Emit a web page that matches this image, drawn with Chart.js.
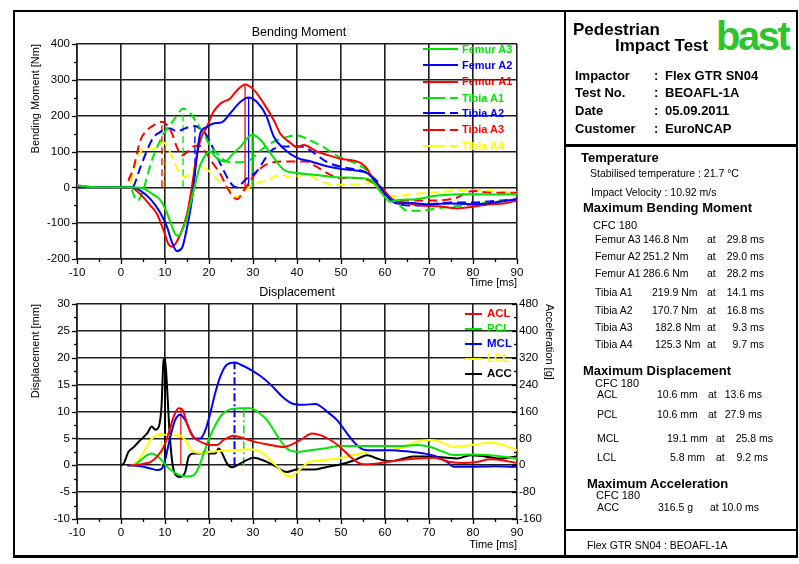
<!DOCTYPE html>
<html><head><meta charset="utf-8">
<script src="https://cdn.jsdelivr.net/npm/chart.js@4.4.0/dist/chart.umd.min.js"></script>
<style>
html,body{margin:0;padding:0;background:#fff;}
body{width:799px;height:564px;position:relative;overflow:hidden;font-family:"Liberation Sans",Arial,sans-serif;color:#000;}
.a{position:absolute;white-space:nowrap;line-height:1;}
canvas{position:absolute;}
.ln{position:absolute;background:#000;}
</style></head><body>
<canvas id="c1" width="551" height="279" style="left:14px;top:11px;width:551px;height:279px"></canvas>
<canvas id="c2" width="551" height="262" style="left:14px;top:290px;width:551px;height:262px"></canvas>
<script>
// ---------- axis ticks ----------
const timeTicks = [-10,0,10,20,30,40,50,60,70,80,90];
const momentTicks = [-200,-100,0,100,200,300,400];
const dispTicks = [-10,-5,0,5,10,15,20,25,30];
const accTicks = [-160,-80,0,80,160,240,320,400,480];

// ---------- bending moment series (time ms, value Nm) ----------
const momentNames = ['Femur A3','Femur A2','Femur A1','Tibia A1','Tibia A2','Tibia A3','Tibia A4'];
const femurA3T = [-10,-5,2,5,7.4,8.9,10,11.2,12.3,13,14.6,15.8,16.9,18,19.2,20.2,21.8,23.7,25.2,27.1,29.8,31.7,33.9,37,40,43.8,48.3,54.4,56.7,58.9,61.2,63,67,72,79,85,90];
const femurA3V = [5,0,0,-3,-21,-35,-59,-96,-130,-135,-100,-45,11,62,90,100,81,72,90,113,147,133,96,49,40,35,29,26,21,-11,-40,-35,-33,-23,-19,-20,-19];
const femurA2T = [-10,2.5,4.4,6.7,8.9,10.5,11.6,12.7,13.9,15,16.1,17.3,18,19.5,21,23,24.8,27.1,29,30.9,33,34.7,37,40,43,46.8,49.8,54.4,55.9,58.2,60.5,62.7,66,70,75,80,85,90];
const femurA2V = [0,0,-9,-33,-70,-112,-154,-178,-168,-112,-37,93,150,168,178,182,206,238,251,238,200,142,108,82,73,59,52,45,40,12,-25,-45,-44,-47,-45,-47,-42,-33];
const femurA1T = [-10,-5,2,4.4,6.7,8.2,9.7,10.8,11.6,13.5,15,16.1,16.9,18,19.5,21,22.6,24.8,26.4,28.2,30.2,32.4,34.7,36.2,38.5,40,41.5,44.5,47,49.8,54.4,55.9,57.4,59.7,62,64.2,68,72,76.4,80,84,87,90];
const femurA1V = [5,0,0,-19,-51,-75,-121,-159,-166,-131,-75,0,65,131,168,210,234,248,271,287,272,235,188,150,124,112,118,100,90,80,68,52,21,-7,-37,-42,-51,-53,-59,-54,-47,-45,-37];
const tibiaA1T = [-10,2,3.7,5,5.9,7,8.2,9.7,11.2,12.7,14.1,15.8,17.3,18.8,20.3,21.8,22.6,24.8,26.4,28.6,31,33,35.5,37,40,43,46,49.8,53.6,55.9,58.2,60.4,62.7,65,68,72,78,84,90];
const tibiaA1V = [0,0,-38,-10,28,75,112,150,175,200,220,206,178,150,115,95,84,70,70,72,95,115,132,138,145,131,112,84,65,47,9,-19,-42,-65,-65,-58,-50,-42,-35];
const tibiaA2T = [-10,2.5,4.4,5.9,7.4,8.9,10,11.2,12.7,13.9,15.4,16.8,18,19.2,20.5,21.8,23,24.5,25.6,26.5,27.5,28.6,29.8,30.9,32.5,33.9,37,40.8,42.7,47.2,51,55,58,60,62,66.5,70,75,80,85,90];
const tibiaA2V = [0,0,56,103,140,154,164,164,156,161,168,171,164,150,120,86,55,20,3,0,11,25,34,45,75,100,114,114,105,68,55,45,20,-15,-40,-51,-48,-42,-42,-38,-33];
const tibiaA3T = [-10,1.2,1.7,2.9,3.6,4.4,5.9,7.4,9.3,10.5,11.6,12.7,13.9,15,16.5,17.7,19.5,21,22.6,24.1,25.6,26.4,27.9,29.4,31.3,33.9,37.7,42.3,44.2,47.6,49.5,53.6,57,60,62,64,71,76,80,84,90];
const tibiaA3V = [0,0,19,56,93,131,159,173,183,173,150,112,89,98,114,117,93,65,37,0,-28,-33,-9,19,49,68,72,72,59,35,26,26,15,-20,-37,-37,-37,-30,-10,-15,-15];
const tibiaA4T = [-10,1.5,2.1,3.3,4.4,5.9,7.4,8.8,9.7,10.8,12,13.5,14.6,15.8,17.3,18.8,20.3,21.8,23.3,24.8,26.4,27.5,28.6,30.2,33.2,36.2,38.5,42.3,45.3,48.3,54.4,56.7,59.7,62,64,68,72,76,80,84,90];
const tibiaA4V = [0,0,9,65,98,112,107,120,125,107,75,37,28,42,61,56,42,23,9,-9,-28,-23,-5,9,19,35,29,35,17,7,9,12,-16,-25,-23,-17,-14,-9,-8,-10,-14];
const momentPeakNm = [146.8,251.2,286.6,219.9,170.7,182.8,125.3];
const momentPeakMs = [29.8,29.0,28.2,14.1,16.8,9.3,9.7];

// ---------- displacement series (time ms, value mm) ----------
const dispNames = ['ACL','PCL','MCL','LCL'];
const aclT = [2,3,5.2,6.7,8.2,9.7,10.8,12,13.1,13.9,15,16.1,17.3,18.8,20.3,21.8,23.3,25.6,27.9,30.2,33.2,37,38.5,40.8,43.4,45.3,47.6,49.8,52.1,54.4,55.9,58.9,62.7,67.3,71,74.8,77.9,80.9,83.9,87,90];
const aclV = [0,0,0.3,0.6,1.6,3.4,5.9,9.1,10.6,10.4,7.8,5.6,4.7,4.1,3.75,3.75,4.7,5.5,5,4.4,3.9,3.4,3.75,4.7,5.9,5.6,4.7,3.4,1.6,0.3,0.2,0.4,0.9,1.25,1.4,0.6,0.4,0.6,1.1,0.9,0.4];
const pclT = [2,2.9,4.4,5.9,7,8.2,9.3,10.5,12,13.5,15,16.5,17.7,18.8,19.9,21.1,22.6,24.5,27.1,27.9,29.4,30.9,33.2,35.5,37.7,40,42.3,46.1,49.8,53.6,58.2,64.2,67.3,70.3,73.3,75.6,79.4,83.2,87,90];
const pclV = [0,0,0.9,1.9,2.2,1.75,0.9,-0.3,-1.25,-1.9,-2.1,-1.9,-0.3,2.2,4.7,6.9,9.1,10.3,10.6,10.6,10.6,10,8.4,5.5,3.1,2.5,2.7,3.1,3.6,3.6,3.6,3.6,3.75,3.4,2.5,1.9,2,1.9,1.6,1.25];
const mclT = [1.4,4.4,6.7,8.2,9.3,10,11.2,12.3,13.5,14.6,15.8,16.9,18,19.2,20.3,21.4,22.6,24.1,25.8,27.1,29.4,31.7,34,37,39.2,41.5,44.2,46.8,49.1,51.4,53.6,55.2,57.4,61.2,65.8,68.8,71.8,74.1,75.6,79.4,85,90];
const mclV = [0,-0.2,-0.6,-0.9,-0.6,0.9,5.3,8.4,9.4,8.4,6.25,5,5,6.6,9.7,13.4,16.6,18.75,19.1,18.75,17.8,16.6,15,12.5,11.4,11.25,11.4,10,8.4,5.9,3.75,2.9,2.8,2.8,2.5,2.2,1.6,0.6,-0.3,-0.3,-0.2,-0.3];
const lclT = [2.1,3.6,5.2,6.7,8.2,9.2,10.5,12,13.1,14.6,16.1,18,20.3,22.6,25.6,28.6,30.9,33.2,35.5,37,38.5,40,42.3,45.3,49.1,53,56.7,61.2,64.2,67.3,70.3,72.6,75.6,77.9,80.9,83.9,87,90];
const lclV = [0,0.6,2.5,4.7,5.6,5.8,5.6,5.6,5.6,4.7,2.8,2.3,2.5,2.7,2.8,3,2.8,1.6,-0.3,-1.6,-2.1,-1.25,0.4,0.9,1.25,1.9,2.6,2.8,3.4,4.4,4.7,4.4,3.4,3.6,3.9,4.2,3.75,2.8];
const dispPeakMm = [10.6,10.6,19.1,5.8];
const dispPeakMs = [13.6,27.9,25.8,9.2];

// ---------- acceleration (time ms, value g) ----------
const accName = 'ACC';
const accT = [0,0.6,1.7,2.9,4.4,5.9,7,7.8,8.6,9.2,9.7,10,10.5,11,11.6,12.3,13.5,14.6,15.4,16.5,18,19.2,20.3,21.4,22.2,23,24.1,25.2,26.4,28.3,30.2,32.4,34.7,37.7,40,43.8,46.8,49.8,52.9,56,58.2,61.2,64.2,66.5,70.3,74.1,76.4,79.4,82.4,86.2,90];
const accV = [0,5,40,54,75,94,115,106,115,174,315,316.5,224,106,14,-26,-35,-20,26,35,35,40,35,35,50,35,5,-6,0,14,22,14,0,-20,-13,-13,-5,2,14,30,20,12,20,26,26,22,20,30,27,20,26];
const accPeakG = 316.5;
const accPeakMs = 10.0;

// ---------- styling ----------
const FONT = "'Liberation Sans', Arial, sans-serif";
const RED = '#ff0000', GREEN = '#00e400', BLUE = '#0000ff', YELLOW = '#ffff00', BLACK = '#000000';
const DASH = [9,5];
const GRID = '#1e1e1e';

function pts(t, v) { return t.map((x, i) => ({x: x, y: v[i]})); }
function series(label, t, v, color, dash, axis) {
  return {label, data: pts(t, v), borderColor: color, borderWidth: 2, borderDash: dash || [],
    pointRadius: 0, fill: false, cubicInterpolationMode: 'monotone', yAxisID: axis || 'y'};
}
function marker(t, peak, color, dash, width, axis) {
  return {label: '', data: [{x: t, y: 0}, {x: t, y: peak}], borderColor: color, borderWidth: width || 1.2,
    borderDash: dash || [], pointRadius: 0, fill: false, tension: 0, yAxisID: axis || 'y'};
}

const tickMarks = {
  id: 'tickMarks',
  afterDraw(chart, args, opts) {
    const ctx = chart.ctx, ca = chart.chartArea;
    ctx.save(); ctx.strokeStyle = '#000'; ctx.lineWidth = 1.3;
    (opts.axes || []).forEach(a => {
      const s = chart.scales[a.id];
      const n = Math.round((s.max - s.min) / (a.step / 2));
      for (let i = 0; i <= n; i++) {
        const v = s.min + i * a.step / 2;
        const len = (i % 2 === 0) ? 5 : 3;
        const p = Math.round(s.getPixelForValue(v)) + 0.5;
        ctx.beginPath();
        if (a.side === 'bottom') { ctx.moveTo(p, ca.bottom); ctx.lineTo(p, ca.bottom + len); }
        else if (a.side === 'left') { ctx.moveTo(ca.left, p); ctx.lineTo(ca.left - len, p); }
        else { ctx.moveTo(ca.right, p); ctx.lineTo(ca.right - len, p); }
        ctx.stroke();
      }
    });
    ctx.restore();
  }
};

function xScale(h) {
  return {type: 'linear', min: -10, max: 90,
    afterBuildTicks: s => { s.ticks = timeTicks.map(v => ({value: v})); },
    grid: {color: GRID, lineWidth: 1.6, drawTicks: false},
    border: {color: GRID, width: 1.6},
    ticks: {padding: 7, color: '#000', font: {family: FONT, size: 11.5}, maxRotation: 0, autoSkip: false},
    title: {display: true, text: 'Time [ms]', align: 'end', padding: 0, color: '#000', font: {family: FONT, size: 11}},
    afterFit: s => { s.height = h; }};
}
function yScale(min, max, ticks, title, tpad) {
  return {type: 'linear', position: 'left', min: min, max: max,
    afterBuildTicks: s => { s.ticks = ticks.map(v => ({value: v})); },
    grid: {color: GRID, lineWidth: 1.6, drawTicks: false},
    border: {color: GRID, width: 1.6},
    ticks: {padding: 7, color: '#000', font: {family: FONT, size: 11.5}, autoSkip: false},
    title: {display: true, text: title, align: 'end', padding: {top: tpad, bottom: 0}, color: '#000', font: {family: FONT, size: 11}},
    afterFit: s => { s.width = 63; }};
}

const momentStyles = [[GREEN, null], [BLUE, null], [RED, null], [GREEN, DASH], [BLUE, DASH], [RED, DASH], [YELLOW, DASH]];
const momentData = [[femurA3T, femurA3V], [femurA2T, femurA2V], [femurA1T, femurA1V], [tibiaA1T, tibiaA1V], [tibiaA2T, tibiaA2V], [tibiaA3T, tibiaA3V], [tibiaA4T, tibiaA4V]];
const ds1 = [];
momentNames.forEach((n, i) => ds1.push(series(n, momentData[i][0], momentData[i][1], momentStyles[i][0], momentStyles[i][1])));
momentNames.forEach((n, i) => ds1.push(marker(momentPeakMs[i], momentPeakNm[i], momentStyles[i][0], momentStyles[i][1] ? [7,4] : [], 1.3)));

new Chart(document.getElementById('c1'), {
  type: 'line',
  data: {datasets: ds1},
  options: {
    responsive: false, animation: false, events: [],
    layout: {padding: {top: 33, right: 48, left: 0, bottom: 0}},
    plugins: {legend: {display: false}, tooltip: {enabled: false}, title: {display: false},
      tickMarks: {axes: [{id: 'x', step: 10, side: 'bottom'}, {id: 'y', step: 100, side: 'left'}]}},
    scales: {x: xScale(31), y: yScale(-200, 400, momentTicks, 'Bending Moment [Nm]', 15)}
  },
  plugins: [tickMarks]
});

const dispStyles = [[RED, [], 1.2], [GREEN, [8,3,2,3], 1.5], [BLUE, [8,3,2,3], 2], [YELLOW, [6,3], 1.5]];
const dispData = [[aclT, aclV], [pclT, pclV], [mclT, mclV], [lclT, lclV]];
const ds2 = [];
dispNames.forEach((n, i) => ds2.push(series(n, dispData[i][0], dispData[i][1], dispStyles[i][0], null)));
ds2.push(series(accName, accT, accV, BLACK, null, 'y2'));
dispNames.forEach((n, i) => ds2.push(marker(dispPeakMs[i], dispPeakMm[i], dispStyles[i][0], dispStyles[i][1], dispStyles[i][2])));
ds2.push(marker(accPeakMs, accPeakG, BLACK, [], 2, 'y2'));

const y2 = {type: 'linear', position: 'right', min: -160, max: 480,
  afterBuildTicks: s => { s.ticks = accTicks.map(v => ({value: v})); },
  grid: {display: false, drawTicks: false}, border: {display: false},
  ticks: {padding: 2, color: '#000', font: {family: FONT, size: 11.5}, autoSkip: false},
  title: {display: true, text: 'Acceleration [g]', align: 'end', padding: {top: 9, bottom: 0}, color: '#000', font: {family: FONT, size: 11}},
  afterFit: s => { s.width = 48; }};

new Chart(document.getElementById('c2'), {
  type: 'line',
  data: {datasets: ds2},
  options: {
    responsive: false, animation: false, events: [],
    layout: {padding: {top: 14, right: 0, left: 0, bottom: 0}},
    plugins: {legend: {display: false}, tooltip: {enabled: false}, title: {display: false},
      tickMarks: {axes: [{id: 'x', step: 10, side: 'bottom'}, {id: 'y', step: 5, side: 'left'}, {id: 'y2', step: 80, side: 'right'}]}},
    scales: {x: xScale(33), y: yScale(-10, 30, dispTicks, 'Displacement [mm]', 15), y2: y2}
  },
  plugins: [tickMarks]
});

// ---------- HTML text & frame ----------
function T(x, y, s, size, o) {
  o = o || {};
  const d = document.createElement('div');
  d.className = 'a'; d.textContent = s;
  d.style.fontSize = size + 'px';
  d.style.top = (y - size * 0.5) + 'px';
  if (o.align === 'right') d.style.right = (799 - x) + 'px';
  else if (o.align === 'center') { d.style.left = x + 'px'; d.style.transform = 'translateX(-50%)'; }
  else d.style.left = x + 'px';
  if (o.bold) d.style.fontWeight = 'bold';
  if (o.color) d.style.color = o.color;
  if (o.ls) d.style.letterSpacing = o.ls;
  document.body.appendChild(d);
  return d;
}
function L(x, y, w, h, bg) {
  const d = document.createElement('div');
  d.className = 'ln';
  d.style.left = x + 'px'; d.style.top = y + 'px'; d.style.width = w + 'px'; d.style.height = h + 'px';
  if (bg) d.style.background = bg;
  document.body.appendChild(d);
  return d;
}

// chart titles
T(299, 32.5, 'Bending Moment', 12.5, {align: 'center'});
T(297, 292, 'Displacement', 12.5, {align: 'center'});

// top legend
const legY1 = [49, 65, 81.5, 98, 113, 129.5, 146];
momentNames.forEach((n, i) => {
  const c = momentStyles[i][0];
  if (momentStyles[i][1]) { L(423, legY1[i] - 1, 22, 2, c); L(450, legY1[i] - 1, 8, 2, c); }
  else L(423, legY1[i] - 1, 35, 2, c);
  T(462, legY1[i], n, 11, {bold: true, color: c});
});
// bottom legend
const legNames2 = dispNames.concat([accName]);
const legCols2 = [RED, GREEN, BLUE, YELLOW, BLACK];
const legY2 = [314, 329, 344, 359, 374];
legNames2.forEach((n, i) => {
  L(465, legY2[i] - 1, 17, 2, legCols2[i]);
  T(487, legY2[i], n, 11.5, {bold: true, color: legCols2[i]});
});

// frame
L(13, 10, 785, 2); L(13, 555, 785, 3); L(13, 10, 2, 548); L(796, 10, 2, 548);
L(564, 10, 2, 548); L(565, 144, 233, 3); L(565, 529, 233, 2);

// header
T(716, 36, 'bast', 40, {bold: true, color: '#2ec42e', ls: '-2.5px'});
T(573, 29.5, 'Pedestrian', 17, {bold: true});
T(615, 45, 'Impact Test', 17, {bold: true});
const infoLabels = ['Impactor', 'Test No.', 'Date', 'Customer'];
const infoValues = ['Flex GTR SN04', 'BEOAFL-1A', '05.09.2011', 'EuroNCAP'];
const infoY = [75, 92.5, 110.5, 128.5];
infoLabels.forEach((s, i) => { T(575, infoY[i], s, 13, {bold: true}); T(654, infoY[i], ':', 13, {bold: true}); T(665, infoY[i], infoValues[i], 13, {bold: true}); });

// temperature etc.
T(581, 157, 'Temperature', 13, {bold: true});
T(590, 173, 'Stabilised temperature : 21.7 °C', 10.5);
T(591, 192, 'Impact Velocity : 10.92 m/s', 10.5);
T(583, 207, 'Maximum Bending Moment', 13, {bold: true});
T(593, 225, 'CFC 180', 11);
const bendY = [239, 256.5, 273, 292, 310, 327, 344];
const bendValX = [643, 643, 643, 652, 652, 655, 655];
momentNames.forEach((n, i) => {
  T(595, bendY[i], n, 10.5);
  T(bendValX[i], bendY[i], momentPeakNm[i].toFixed(1) + ' Nm', 10.5);
  T(707, bendY[i], 'at', 10.5);
  T(764, bendY[i], momentPeakMs[i].toFixed(1) + ' ms', 10.5, {align: 'right'});
});

T(583, 370, 'Maximum Displacement', 13, {bold: true});
T(595, 383, 'CFC 180', 11);
const dY = [394, 414, 438, 457];
const dValX = [657, 657, 667, 670];
const dAtX = [708, 708, 716, 716];
const dMsR = [762, 762, 773, 768];
dispNames.forEach((n, i) => {
  T(597, dY[i], n, 10.5);
  T(dValX[i], dY[i], dispPeakMm[i].toFixed(1) + ' mm', 10.5);
  T(dAtX[i], dY[i], 'at', 10.5);
  T(dMsR[i], dY[i], dispPeakMs[i].toFixed(1) + ' ms', 10.5, {align: 'right'});
});

T(587, 483, 'Maximum Acceleration', 13, {bold: true});
T(596, 495, 'CFC 180', 11);
T(597, 507, accName, 10.5);
T(658, 507, accPeakG.toFixed(1) + ' g', 10.5);
T(710, 507, 'at', 10.5);
T(759, 507, accPeakMs.toFixed(1) + ' ms', 10.5, {align: 'right'});

T(587, 545, 'Flex GTR SN04 : BEOAFL-1A', 10.5);
</script>
</body></html>
